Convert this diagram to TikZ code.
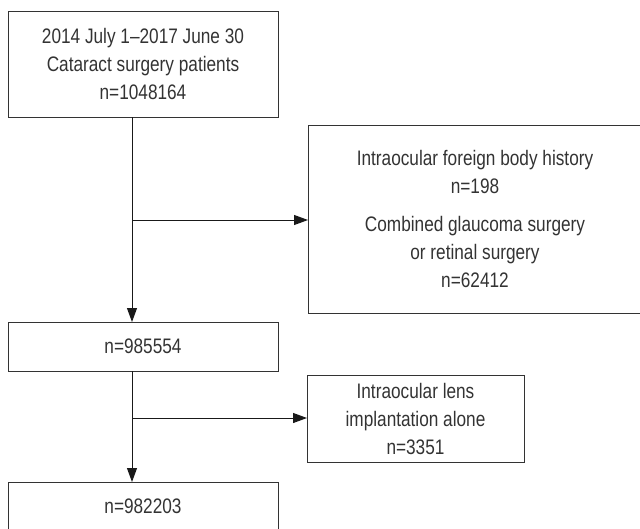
\documentclass[tikz,border=0pt]{standalone}
\usepackage{fontspec}
\setmainfont{Liberation Sans}[FakeStretch=0.82]
\usetikzlibrary{arrows.meta}

\begin{document}
\begin{tikzpicture}[x=1pt, y=-1pt,
    box/.style={draw=black!80, line width=1pt, text=black!80, align=center,
        inner sep=0pt, outer sep=0pt,
        font=\fontsize{21}{28}\selectfont},
    flow/.style={draw=black!90, line width=1pt, -{Triangle[length=14pt, width=10pt]}}]
    \useasboundingbox (0,0) rectangle (640,528);
    % boxes
    \node[box, minimum width=270pt, minimum height=106pt] (total) at (143,64)
        {2014 July 1--2017 June 30\\Cataract surgery patients\\n=1048164};
    \node[box, minimum width=334pt, minimum height=188pt] (excl1) at (475,219)
        {Intraocular foreign body history\\n=198\\[10pt]Combined glaucoma surgery\\or retinal surgery\\n=62412};
    \node[box, minimum width=270pt, minimum height=49pt] (mid) at (143,346.5) {n=985554};
    \node[box, minimum width=217pt, minimum height=87pt] (excl2) at (415.5,418.5)
        {Intraocular lens\\implantation alone\\n=3351};
    \node[box, minimum width=270pt, minimum height=49pt] (final) at (143,506.5) {n=982203};
    % connectors
    \coordinate (split1) at (132,220);
    \coordinate (split2) at (132,418);
    \draw[flow] (total.south -| split1) -- (mid.north -| split1);
    \draw[flow] (split1) -- (split1 -| excl1.west);
    \draw[flow] (mid.south -| split2) -- (final.north -| split2);
    \draw[flow] (split2) -- (split2 -| excl2.west);
\end{tikzpicture}
\end{document}
